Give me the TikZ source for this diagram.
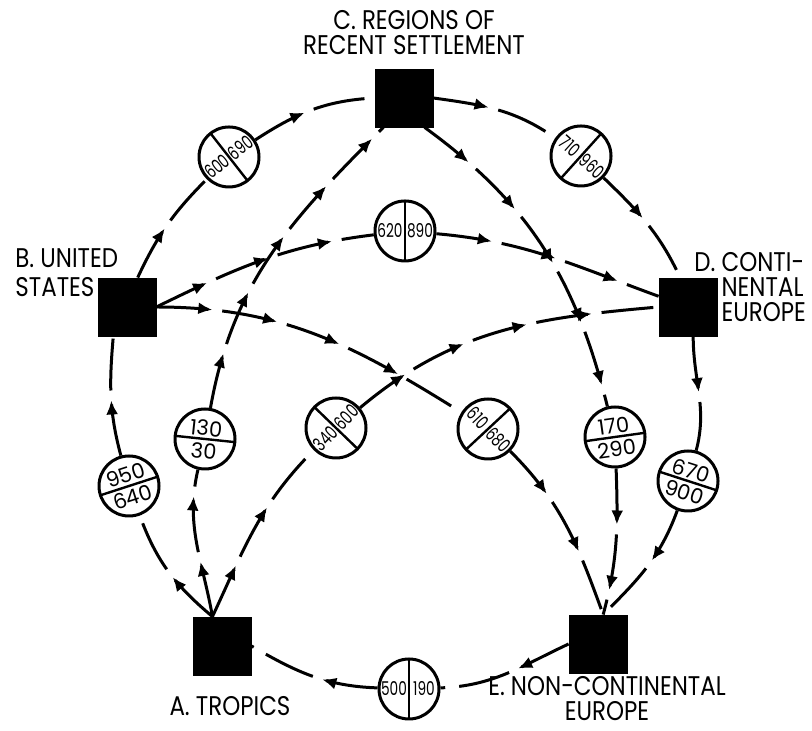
\documentclass[tikz,border=0pt]{standalone}
\usepackage{fontspec}
\setsansfont{Poppins}[FakeStretch=0.85]
\newfontfamily\numfont{Poppins}
\newfontfamily\numnarrow{Poppins}[FakeStretch=0.72]
\usetikzlibrary{
  arrows.meta,
  decorations.markings,
  positioning
}

% cerchio con due valori affiancati lungo il flusso
\newcommand{\sharepair}[5]{%
  \node (#1) [share] at (#2) {};
  \begin{scope}[shift={(#2)}, rotate=#3]
    \draw [divide] (0,-31) -- (0,31);
    \node (#1-a) [numside, transform shape] at (-15,0) {#4};
    \node (#1-b) [numside, transform shape] at (15,0) {#5};
  \end{scope}
}
% cerchio con due valori sovrapposti
\newcommand{\sharestack}[5]{%
  \node (#1) [share] at (#2) {};
  \begin{scope}[shift={(#2)}, rotate=#3]
    \draw [divide] (-31,0) -- (31,0);
    \node (#1-a) [numstack, transform shape] at (0,11) {#4};
    \node (#1-b) [numstack, transform shape] at (0,-12) {#5};
  \end{scope}
}

\begin{document}
\begin{tikzpicture}[
            x=0.5pt, y=0.5pt,
            font=\sffamily,
            region/.style={rectangle, fill=black, draw=black, minimum size=29pt, inner sep=0pt},
            regionname/.style={font=\sffamily\fontsize{13.5}{12.5}\selectfont, inner sep=0pt},
            share/.style={circle, draw=black, line width=1.5pt, fill=white, minimum size=30pt, inner sep=0pt},
            divide/.style={line width=1.2pt},
            numstack/.style={font=\numfont\fontsize{10.5}{10}\selectfont, inner sep=0pt},
            numside/.style={font=\numnarrow\fontsize{9.5}{10}\selectfont, inner sep=0pt},
            flow/.style={line width=1.5pt, dash pattern=on 26pt off 7pt, postaction={decorate},
              decoration={markings, mark=between positions 28pt and -8pt step 33pt with {\arrow{Latex[length=7pt,width=6pt]}}}}
        ]
        \useasboundingbox (0,0) rectangle (812,731);

        % Regioni
        \node (C) [region] at (404,633) {};
        \node (B) [region] at (127,424) {};
        \node (D) [region] at (688,424) {};
        \node (A) [region] at (222,85) {};
        \node (E) [region] at (598,87) {};

        % Nomi
        \node (nameC) [regionname, align=center] at (414,698) {C. REGIONS OF\\RECENT SETTLEMENT};
        \node (nameB) [regionname, align=left, anchor=west] at (15,458) {B. UNITED\\[2pt]STATES};
        \node (nameD) [regionname, align=left, anchor=west] at (694,444) {D. CONTI-\\\hphantom{D. }NENTAL\\\hphantom{D. }EUROPE};
        \node (nameA) [regionname] at (230,25) {A. TROPICS};
        \node (nameE) [regionname, align=center] at (607,32) {E. NON-CONTINENTAL\\EUROPE};

        % Cerchi
        \sharepair{c600}{229,574}{38}{600}{690}
        \sharepair{c710}{581,575}{-42}{710}{960}
        \sharepair{c620}{405,500}{0}{620}{890}
        \sharepair{c340}{336,303}{46}{340}{600}
        \sharepair{c610}{488,302}{-47}{610}{680}
        \sharepair{c500}{409,42}{0}{500}{190}
        \sharestack{c130}{205,292}{-6}{130}{30}
        \sharestack{c170}{615,294}{8}{170}{290}
        \sharestack{c670}{688,250}{-18}{670}{900}
        \sharestack{c950}{129,245}{18}{950}{640}

        % Anello esterno
        \draw [flow] (B.70) to[out=65, in=225] (c600);
        \draw [flow] (c600) to[out=33, in=183] (C.west);
        \draw [flow] (C.east) to[out=-8, in=145] (c710);
        \draw [flow] (c710) to[out=-44, in=115] (D.105);
        \draw [flow] (D.-80) to[out=-90, in=75] (c670);
        \draw [flow] (c670) to[out=-110, in=45] (E.80);
        \draw [flow] (E.west) to[out=205, in=2] (c500);
        \draw [flow] (c500) to[out=178, in=-30] (A.east);
        \draw [flow] (A.108) to[out=140, in=-70] (c950);
        \draw [flow] (c950) to[out=105, in=-95] (B.-115);

        % Collegamenti interni
        \draw [flow] (A.108) to[out=100, in=-103] (c130);
        \draw [flow] (c130) to[out=80, in=225] (C.235);
        \draw [flow] (A.108) to[out=65, in=225] (c340);
        \draw [flow] (c340) to[out=40, in=185] (D.west);
        \draw [flow] (B.east) to[out=26, in=187] (c620);
        \draw [flow] (c620) to[out=-5, in=160] (D.160);
        \draw [flow] (B.east) to[out=0, in=148] (c610);
        \draw [flow] (c610) to[out=-45, in=110] (E.80);
        \draw [flow] (C.-55) to[out=-36, in=104] (c170);
        \draw [flow] (c170) to[out=-88, in=75] (E.80);

    \end{tikzpicture}
\end{document}
